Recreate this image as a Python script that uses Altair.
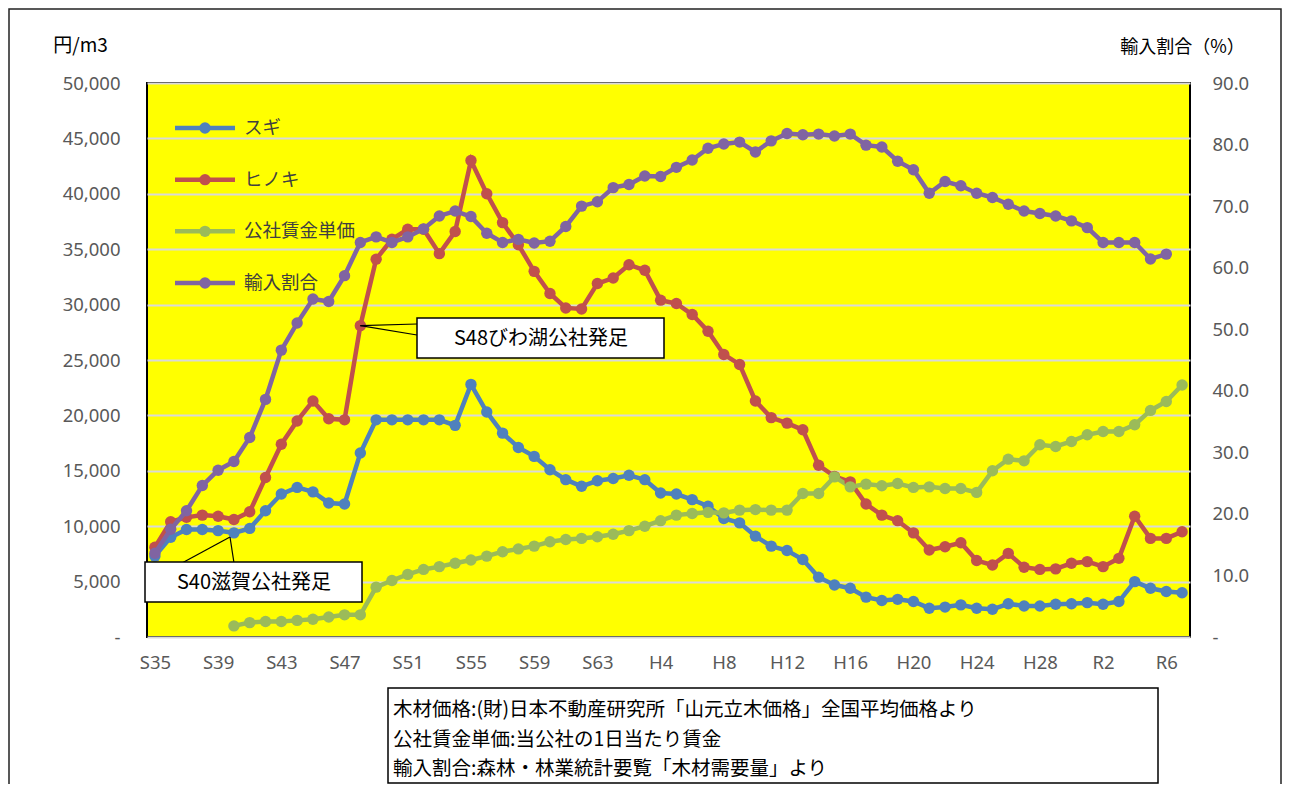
import altair as alt
import pandas as pd

labels = [
    'S35', 'S36', 'S37', 'S38', 'S39', 'S40', 'S41', 'S42', 'S43', 'S44',
    'S45', 'S46', 'S47', 'S48', 'S49', 'S50', 'S51', 'S52', 'S53', 'S54',
    'S55', 'S56', 'S57', 'S58', 'S59', 'S60', 'S61', 'S62', 'S63',
    'H1', 'H2', 'H3', 'H4', 'H5', 'H6', 'H7', 'H8', 'H9', 'H10',
    'H11', 'H12', 'H13', 'H14', 'H15', 'H16', 'H17', 'H18', 'H19', 'H20',
    'H21', 'H22', 'H23', 'H24', 'H25', 'H26', 'H27', 'H28', 'H29', 'H30',
    'R1', 'R2', 'R3', 'R4', 'R5', 'R6', 'R7',
]
tick_labels = ['S35', 'S39', 'S43', 'S47', 'S51', 'S55', 'S59', 'S63', 'H4',
               'H8', 'H12', 'H16', 'H20', 'H24', 'H28', 'R2', 'R6']

# スギ (円/m3)
sugi = [7300, 9000, 9700, 9700, 9600, 9400, 9800, 11400, 12900, 13500,
        13100, 12100, 12000, 16600, 19600, 19600, 19600, 19600, 19600, 19100,
        22800, 20300, 18400, 17100, 16300, 15100, 14200, 13600, 14100,
        14300, 14600, 14200, 13000, 12900, 12400, 11800, 10700, 10300, 9100,
        8200, 7800, 7000, 5400, 4700, 4400, 3600, 3300, 3400, 3200,
        2600, 2700, 2900, 2600, 2500, 3000, 2800, 2800, 2950, 3000,
        3100, 2950, 3200, 5000, 4400, 4100, 4000]
# ヒノキ (円/m3)
hinoki = [8100, 10400, 10800, 11000, 10900, 10600, 11300, 14400, 17400, 19500,
          21300, 19700, 19600, 28100, 34100, 35900, 36800, 36800, 34600, 36600,
          43000, 40000, 37400, 35400, 33000, 31000, 29700, 29600, 31900,
          32400, 33600, 33100, 30400, 30100, 29100, 27600, 25500, 24600, 21300,
          19800, 19300, 18700, 15500, 14500, 14000, 12000, 11000, 10500, 9400,
          7850, 8150, 8500, 6900, 6500, 7550, 6300, 6100, 6150, 6650,
          6800, 6350, 7100, 10900, 8900, 8900, 9500]
# 公社賃金単価 (円/日) - from S40
chingin = [None, None, None, None, None, 1000, 1300, 1400, 1400, 1500,
           1600, 1800, 2000, 2000, 4500, 5100, 5650, 6100, 6350, 6650,
           6950, 7300, 7700, 7950, 8200, 8600, 8800, 8900, 9050,
           9270, 9600, 10000, 10500, 11000, 11150, 11250, 11200, 11450, 11500,
           11450, 11450, 12950, 12950, 14450, 13550, 13800, 13650, 13850, 13500,
           13550, 13400, 13400, 13050, 15000, 16050, 15900, 17350, 17200, 17650,
           18250, 18550, 18550, 19150, 20450, 21250, 22750]
# 輸入割合 (%) - to R6
yunyu = [13.6, 17.5, 20.5, 24.6, 27.1, 28.5, 32.4, 38.6, 46.6, 51.0,
         54.9, 54.5, 58.7, 64.1, 65.0, 64.1, 65.0, 66.3, 68.4, 69.2,
         68.3, 65.6, 64.1, 64.6, 64.0, 64.3, 66.7, 70.0, 70.7,
         73.0, 73.5, 74.9, 74.8, 76.3, 77.5, 79.4, 80.1, 80.4, 78.8,
         80.6, 81.8, 81.6, 81.7, 81.4, 81.7, 79.9, 79.6, 77.3, 75.9,
         72.1, 74.0, 73.3, 72.1, 71.4, 70.3, 69.2, 68.8, 68.4, 67.6,
         66.5, 64.1, 64.1, 64.1, 61.4, 62.2]

series_names = ['スギ', 'ヒノキ', '公社賃金単価', '輸入割合']
series_colors = ['#4F81BD', '#C0504D', '#9BBB59', '#8064A2']

left_ticks = [0, 5000, 10000, 15000, 20000, 25000, 30000, 35000, 40000, 45000, 50000]
right_ticks = [0, 10, 20, 30, 40, 50, 60, 70, 80, 90]

note_lines = [
    '木材価格:(財)日本不動産研究所「山元立木価格」全国平均価格より',
    '公社賃金単価:当公社の1日当たり賃金',
    '輸入割合:森林・林業統計要覧「木材需要量」より',
]
callout1 = 'S48びわ湖公社発足'
callout2 = 'S40滋賀公社発足'

FONT = 'Noto Sans CJK JP'
NUMFONT = 'Noto Sans'

rows = []
for name, vals in [('スギ', sugi), ('ヒノキ', hinoki), ('公社賃金単価', chingin)]:
    for i, v in enumerate(vals):
        if v is not None:
            rows.append({'label': labels[i], 'i': i, 'series': name, 'value': v})
left_df = pd.DataFrame(rows)
right_df = pd.DataFrame({'label': labels[:len(yunyu)], 'i': list(range(len(yunyu))),
                         'series': '輸入割合', 'value': yunyu})
anchor_df = pd.DataFrame({'label': ['S48'], 'value': [hinoki[labels.index('S48')]]})
legend_df = pd.DataFrame({'series': series_names})
dummy = pd.DataFrame({'a': [0]})

color_scale = alt.Scale(domain=series_names, range=series_colors)

x_enc = alt.X('label:N', sort=None,
              scale=alt.Scale(type='point', domain=labels, padding=0.5),
              axis=alt.Axis(values=tick_labels, labelAngle=0, ticks=False, domain=False,
                            grid=False, labelPadding=16, labelFontSize=18.5,
                            labelFont=NUMFONT, labelColor='#595959', title=None))

y_left = alt.Y('value:Q', scale=alt.Scale(domain=[0, 50000], nice=False),
               axis=alt.Axis(values=left_ticks,
                             labelExpr="datum.value == 0 ? '-' : format(datum.value, ',')",
                             ticks=False, domain=False, grid=True, gridColor='#d9d9d9',
                             gridWidth=2, labelFontSize=18.5, labelFont=NUMFONT,
                             labelColor='#595959',
                             labelPadding=27, title='円/m3', titleAngle=0,
                             titleX=-67, titleY=-38, titleAlign='center',
                             titleBaseline='middle', titleFontSize=19,
                             titleFontWeight='normal', titleColor='black'))

y_right = alt.Y('value:Q', scale=alt.Scale(domain=[0, 90], nice=False),
                axis=alt.Axis(orient='right', values=right_ticks,
                              labelExpr="datum.value == 0 ? '   -' : format(datum.value, '.1f')",
                              ticks=False, domain=False, grid=False, labelFontSize=18.5,
                              labelFont=NUMFONT,
                              labelColor='#595959', labelPadding=22,
                              title='輸入割合（%）', titleAngle=0, titleX=-8, titleY=-36,
                              titleAlign='center', titleBaseline='middle',
                              titleFontSize=18, titleFontWeight='normal',
                              titleColor='black'))

pt = alt.OverlayMarkDef(filled=True, size=130, opacity=1)

left_lines = alt.Chart(left_df).mark_line(strokeWidth=4.5, point=pt).encode(
    x=x_enc, y=y_left,
    color=alt.Color('series:N', scale=color_scale, legend=None),
    detail='series:N',
    order=alt.Order('i:Q'),
)

# callout S48 (pointer anchored on ヒノキ S48 point)
ptr1a = alt.Chart(anchor_df).mark_rule(color='black', strokeWidth=1.2).encode(
    x=x_enc, y=y_left, x2=alt.value(270), y2=alt.value(241))
ptr1b = alt.Chart(anchor_df).mark_rule(color='black', strokeWidth=1.2).encode(
    x=x_enc, y=y_left, x2=alt.value(270), y2=alt.value(252))
box1 = alt.Chart(dummy).mark_rect(fill='white', stroke='black', strokeWidth=1.5).encode(
    x=alt.value(270), x2=alt.value(517), y=alt.value(235), y2=alt.value(275))
txt1 = alt.Chart(dummy).mark_text(fontSize=20, font=FONT, color='black', align='center',
                                  baseline='middle').encode(
    x=alt.value(394), y=alt.value(256), text=alt.value(callout1))

# callout S40
ptr2a = alt.Chart(dummy).mark_rule(color='black', strokeWidth=1.2).encode(
    x=alt.value(83), y=alt.value(454), x2=alt.value(35), y2=alt.value(480))
ptr2b = alt.Chart(dummy).mark_rule(color='black', strokeWidth=1.2).encode(
    x=alt.value(83), y=alt.value(454), x2=alt.value(87), y2=alt.value(480))
box2 = alt.Chart(dummy).mark_rect(fill='white', stroke='black', strokeWidth=1.5).encode(
    x=alt.value(-2), x2=alt.value(215), y=alt.value(479), y2=alt.value(519))
txt2 = alt.Chart(dummy).mark_text(fontSize=20, font=FONT, color='black', align='center',
                                  baseline='middle').encode(
    x=alt.value(107), y=alt.value(500), text=alt.value(callout2))

# notes box
notes_box = alt.Chart(dummy).mark_rect(fill='white', stroke='black', strokeWidth=1.5).encode(
    x=alt.value(241), x2=alt.value(1011), y=alt.value(605), y2=alt.value(700))
note_layers = []
for k, line in enumerate(note_lines):
    note_layers.append(
        alt.Chart(dummy).mark_text(fontSize=19.5, font=FONT, color='black', align='left',
                                   baseline='middle').encode(
            x=alt.value(246), y=alt.value(627 + 29.5 * k), text=alt.value(line)))

outer = alt.Chart(dummy).mark_rect(fill='white', fillOpacity=0, stroke='#222222',
                                   strokeWidth=1.5).encode(
    x=alt.value(-138), x2=alt.value(1134), y=alt.value(-74), y2=alt.value(720))

left_group = alt.layer(left_lines, ptr1a, ptr1b, box1, txt1, ptr2a, ptr2b, box2, txt2,
                       notes_box, *note_layers, outer)

right_group = alt.Chart(right_df).mark_line(strokeWidth=4.5, point=pt).encode(
    x=x_enc, y=y_right,
    color=alt.Color('series:N', scale=color_scale, legend=None),
    order=alt.Order('i:Q'),
)

leg_y = alt.Y('series:N', scale=alt.Scale(type='point', domain=series_names,
                                          range=[45, 200], padding=0), axis=None)
leg_rule = alt.Chart(legend_df).mark_rule(strokeWidth=4.5).encode(
    y=leg_y, x=alt.value(28), x2=alt.value(88),
    color=alt.Color('series:N', scale=color_scale, legend=None))
leg_pt = alt.Chart(legend_df).mark_point(filled=True, size=130, opacity=1, shape='circle').encode(
    y=leg_y, x=alt.value(58),
    color=alt.Color('series:N', scale=color_scale, legend=None))
leg_txt = alt.Chart(legend_df).mark_text(align='left', baseline='middle', fontSize=18.5,
                                         font=FONT, color='#404040').encode(
    y=leg_y, x=alt.value(97), text='series:N')
legend_group = alt.layer(leg_rule, leg_pt, leg_txt)

chart = alt.layer(left_group, right_group, legend_group).resolve_scale(
    y='independent'
).properties(
    width=1043, height=554,
    padding={'left': 139, 'top': 75, 'right': 93, 'bottom': 147},
    autosize=alt.AutoSizeParams(type='none'),
).configure(
    font=FONT,
).configure_view(
    fill='#FFFF00', stroke='black', strokeWidth=2,
).configure_axis(
    titleFont=FONT,
)

chart.save('out.html', embed_options={'renderer': 'svg', 'actions': False})
